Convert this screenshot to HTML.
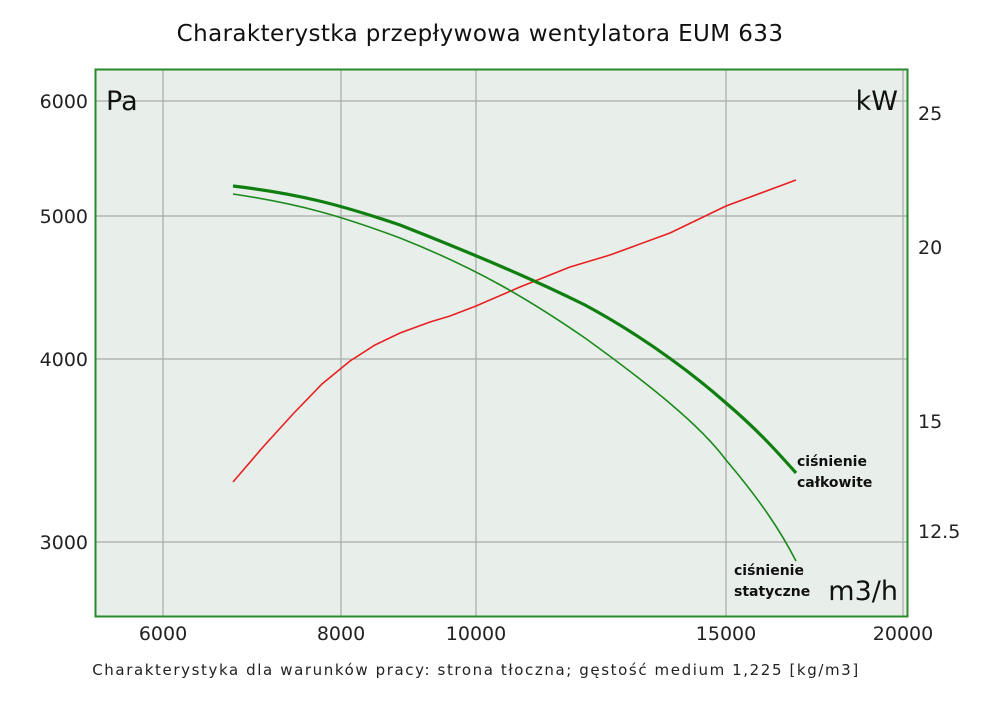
<!DOCTYPE html>
<html><head><meta charset="utf-8"><style>
body{margin:0;background:#fff;}
svg text{font-family:"DejaVu Sans","Liberation Sans",sans-serif;}
</style></head><body>
<svg width="1000" height="706" viewBox="0 0 1000 706" xmlns="http://www.w3.org/2000/svg">
<rect width="1000" height="706" fill="#fff"/>
<text x="480" y="41" font-size="23" text-anchor="middle" fill="#111" letter-spacing="0.4">Charakterystka przepływowa wentylatora EUM 633</text>
<rect x="95.5" y="69.5" width="812" height="547" fill="#e8eeea" stroke="none"/>
<g stroke="#a8aaa8" stroke-width="1.2">
<line x1="163" y1="69" x2="163" y2="616"/>
<line x1="341" y1="69" x2="341" y2="616"/>
<line x1="476" y1="69" x2="476" y2="616"/>
<line x1="726" y1="69" x2="726" y2="616"/>
<line x1="903" y1="69" x2="903" y2="616"/>
<line x1="95" y1="101" x2="908" y2="101"/>
<line x1="95" y1="216" x2="908" y2="216"/>
<line x1="95" y1="359" x2="908" y2="359"/>
<line x1="95" y1="542" x2="908" y2="542"/>
</g>
<rect x="95.5" y="69.5" width="812" height="547" fill="none" stroke="#2a8a2a" stroke-width="2"/>
<g font-size="19" fill="#222">
<text x="88" y="108" text-anchor="end">6000</text>
<text x="88" y="223" text-anchor="end">5000</text>
<text x="88" y="366" text-anchor="end">4000</text>
<text x="88" y="549" text-anchor="end">3000</text>
<text x="918" y="120">25</text>
<text x="918" y="254">20</text>
<text x="918" y="428">15</text>
<text x="918" y="538">12.5</text>
<text x="163" y="640" text-anchor="middle">6000</text>
<text x="341" y="640" text-anchor="middle">8000</text>
<text x="476" y="640" text-anchor="middle">10000</text>
<text x="726" y="640" text-anchor="middle">15000</text>
<text x="903" y="640" text-anchor="middle">20000</text>
</g>
<text x="106" y="110" font-size="27" fill="#111">Pa</text>
<text x="898" y="110" font-size="27" fill="#111" text-anchor="end">kW</text>
<text x="898" y="600" font-size="27" fill="#111" text-anchor="end">m3/h</text>
<polyline fill="none" stroke="#e82020" stroke-width="1.6" points="233,482 263,447 293,414 322,384 350,361 375,345 400,333 430,322 450,316 476,306 520,287 570,267 610,255 670,233 726,206 796,180"/>
<path fill="none" stroke="#1a8a1a" stroke-width="1.6" d="M233,194 C300,204 341,216 400,238 C476,268 530,300 585,338 C650,385 700,425 726,460 C760,500 780,530 796,561"/>
<path fill="none" stroke="#0f7f0f" stroke-width="3.2" d="M233,186 C300,194 341,205 400,225 C476,255 530,278 585,305 C650,340 700,380 726,403 C760,432 780,455 796,473"/>
<g font-size="14" fill="#111" font-weight="bold">
<text x="797" y="466">ciśnienie</text>
<text x="797" y="487">całkowite</text>
<text x="734" y="575">ciśnienie</text>
<text x="734" y="596">statyczne</text>
</g>
<text x="476" y="675" font-size="15" fill="#222" text-anchor="middle" letter-spacing="1.6">Charakterystyka dla warunków pracy: strona tłoczna; gęstość medium 1,225 [kg/m3]</text>
</svg>
</body></html>
